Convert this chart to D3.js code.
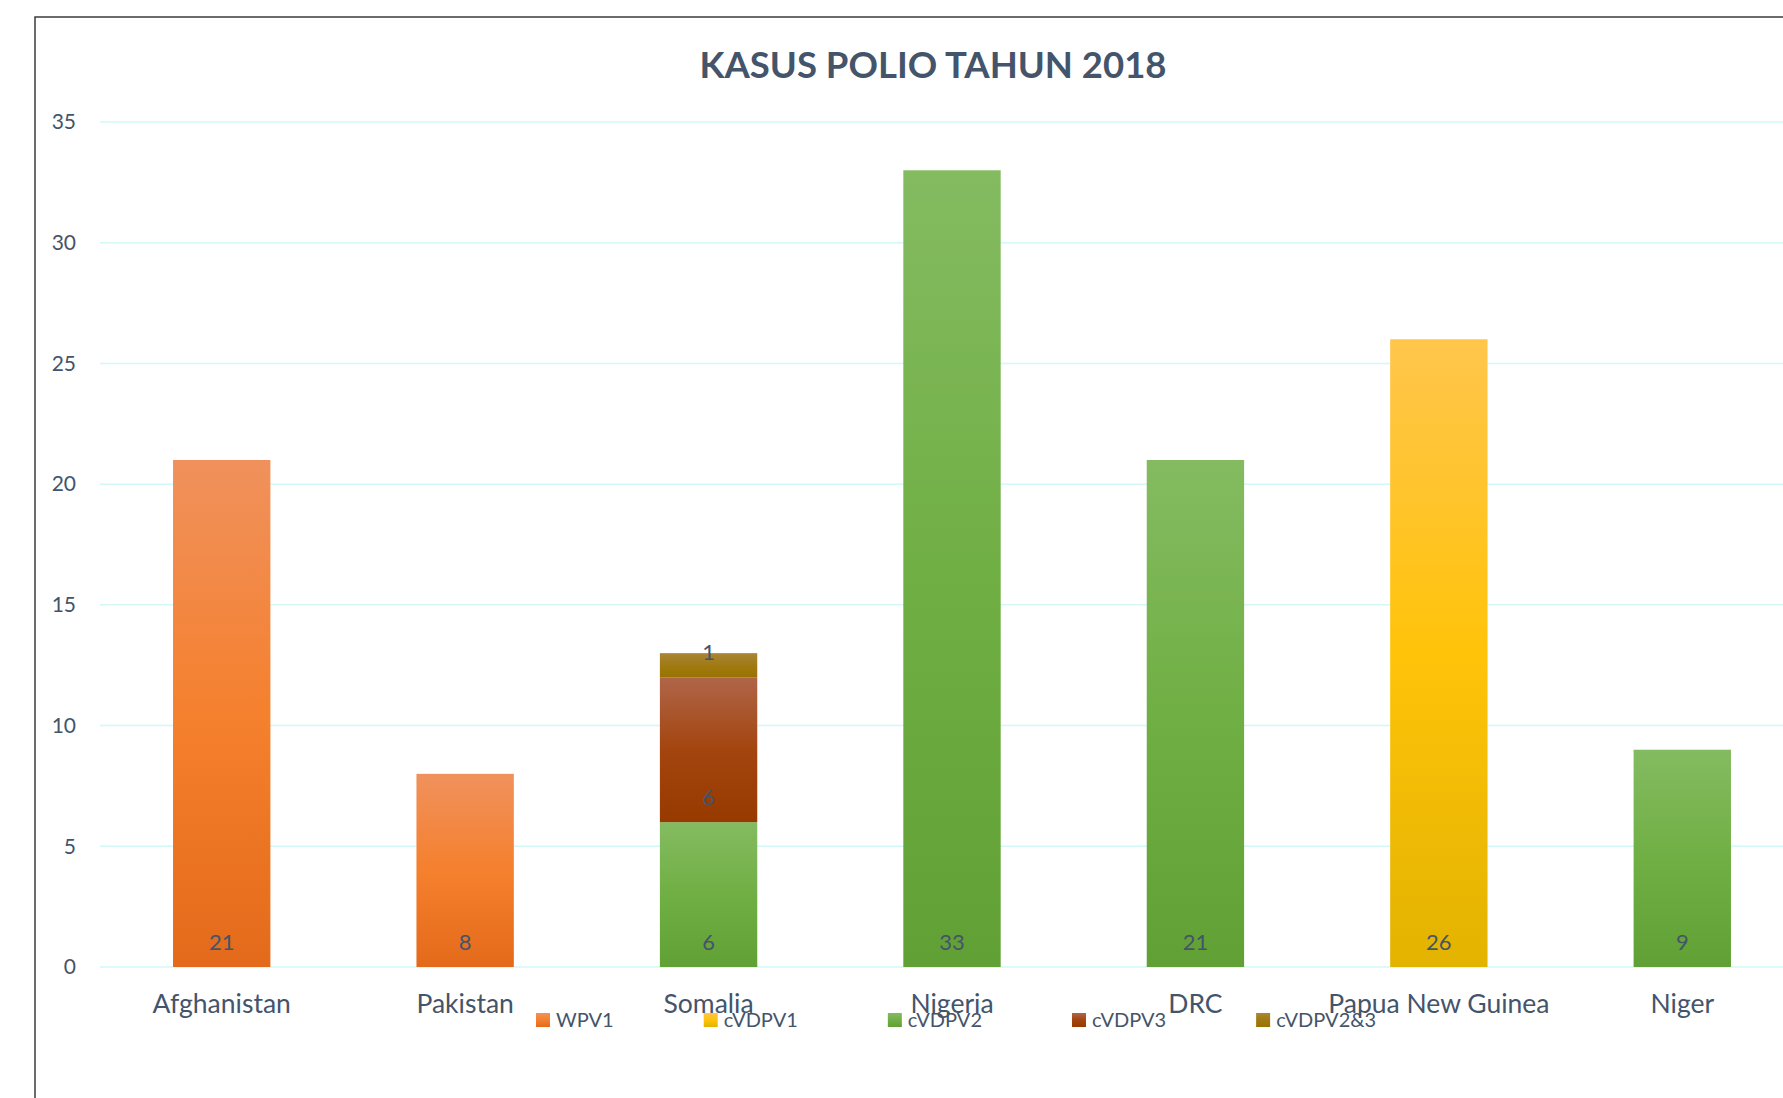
<!DOCTYPE html>
<html>
<head>
<meta charset="utf-8">
<script src="https://cdn.jsdelivr.net/npm/d3@7"></script>
<style>
  html, body { margin: 0; padding: 0; background: #ffffff; }
  svg { display: block; }
  text { font-family: Lato, "Open Sans", sans-serif; }
</style>
</head>
<body>
<svg id="chart" width="1783" height="1098"></svg>
<script>
// ---- data ----
const categories = ["Afghanistan", "Pakistan", "Somalia", "Nigeria", "DRC", "Papua New Guinea", "Niger"];
const seriesNames = ["WPV1", "cVDPV1", "cVDPV2", "cVDPV3", "cVDPV2&3"];
const wpv1    = [21, 8, 0, 0, 0, 0, 0];
const cvdpv1  = [0, 0, 0, 0, 0, 26, 0];
const cvdpv2  = [0, 0, 6, 33, 21, 0, 9];
const cvdpv3  = [0, 0, 6, 0, 0, 0, 0];
const cvdpv23 = [0, 0, 1, 0, 0, 0, 0];
const yTicks  = [0, 5, 10, 15, 20, 25, 30, 35];
const titleText = "KASUS POLIO TAHUN 2018";

// ---- styles ----
const gradStops = {
  "WPV1":     ["#F0915C", "#F5802E", "#E36A1A"],
  "cVDPV1":   ["#FFC64C", "#FFC30A", "#E2B300"],
  "cVDPV2":   ["#84BB61", "#70AF44", "#61A034"],
  "cVDPV3":   ["#B06549", "#A3450E", "#973A00"],
  "cVDPV2&3": ["#A98637", "#A07A12", "#997300"]
};
const textColor = "#44546A";

const seriesValues = [wpv1, cvdpv1, cvdpv2, cvdpv3, cvdpv23];
const table = categories.map((c, i) => {
  const row = { category: c };
  seriesNames.forEach((s, j) => row[s] = seriesValues[j][i]);
  return row;
});

const svg = d3.select("#chart");
const defs = svg.append("defs");
seriesNames.forEach((s, i) => {
  const g = defs.append("linearGradient")
    .attr("id", "grad" + i)
    .attr("x1", 0).attr("y1", 0).attr("x2", 0).attr("y2", 1);
  const st = gradStops[s];
  g.append("stop").attr("offset", "0%").attr("stop-color", st[0]);
  g.append("stop").attr("offset", "50%").attr("stop-color", st[1]);
  g.append("stop").attr("offset", "100%").attr("stop-color", st[2]);
});

// frame
svg.append("rect")
  .attr("x", 35).attr("y", 17).attr("width", 1900).attr("height", 1200)
  .attr("fill", "none").attr("stroke", "#3c3c3c").attr("stroke-width", 1.5);

const plotLeft = 100, plotRight = 1804, plotTop = 122, plotBottom = 967;

const x = d3.scaleBand().domain(categories).range([plotLeft, plotRight])
  .paddingInner(0.6).paddingOuter(0.3);
const y = d3.scaleLinear().domain([0, 35]).range([plotBottom, plotTop]);

// gridlines
svg.append("g").selectAll("line").data(yTicks).join("line")
  .attr("x1", plotLeft).attr("x2", plotRight)
  .attr("y1", d => y(d)).attr("y2", d => y(d))
  .attr("stroke", "#D2F8F8").attr("stroke-width", 1.5);

// y axis labels
const yAxis = d3.axisLeft(y).tickValues(yTicks).tickSize(0).tickPadding(0);
const yg = svg.append("g").attr("transform", `translate(76,0)`).call(yAxis);
yg.select(".domain").remove();
yg.selectAll("text").attr("fill", textColor).style("font-size", "21px")
  .style("font-family", "Lato, sans-serif");

// bars
const stack = d3.stack().keys(seriesNames);
const stacked = stack(table);
const layers = svg.append("g").selectAll("g").data(stacked).join("g")
  .attr("fill", (d, i) => `url(#grad${i})`);
layers.selectAll("rect").data(d => d.filter(p => p[1] - p[0] > 0)).join("rect")
  .attr("x", d => x(d.data.category))
  .attr("width", x.bandwidth())
  .attr("y", d => y(d[1]))
  .attr("height", d => y(d[0]) - y(d[1]));

// data labels (inside base)
const labelG = svg.append("g");
stacked.forEach(layer => {
  layer.filter(p => p[1] - p[0] > 0).forEach(p => {
    labelG.append("text")
      .attr("x", x(p.data.category) + x.bandwidth() / 2)
      .attr("y", y(p[0]) - 17)
      .attr("text-anchor", "middle")
      .attr("fill", textColor)
      .style("font-size", "22px")
      .text(p[1] - p[0]);
  });
});

// category labels
const xAxis = d3.axisBottom(x).tickSize(0).tickPadding(0);
const xg = svg.append("g").attr("transform", `translate(0,${plotBottom})`).call(xAxis);
xg.select(".domain").remove();
xg.selectAll("text").attr("fill", textColor).attr("dy", 0).attr("y", 46)
  .style("font-size", "26.5px").style("font-family", "Lato, sans-serif");

// title
svg.append("text")
  .attr("x", 933).attr("y", 78).attr("text-anchor", "middle")
  .attr("fill", textColor).style("font-size", "36.5px").style("font-weight", "bold")
  .text(titleText);

// legend
const legend = svg.append("g");
let lx = 536;
seriesNames.forEach((s, i) => {
  const item = legend.append("g").attr("transform", `translate(${lx},0)`);
  item.append("rect").attr("x", 0).attr("y", 1013).attr("width", 14).attr("height", 14)
    .attr("fill", `url(#grad${i})`);
  const t = item.append("text").attr("x", 20).attr("y", 1027)
    .attr("fill", textColor).style("font-size", "20px").text(s);
  const w = t.node().getComputedTextLength();
  lx += 20 + w + 90;
});
</script>
</body>
</html>
